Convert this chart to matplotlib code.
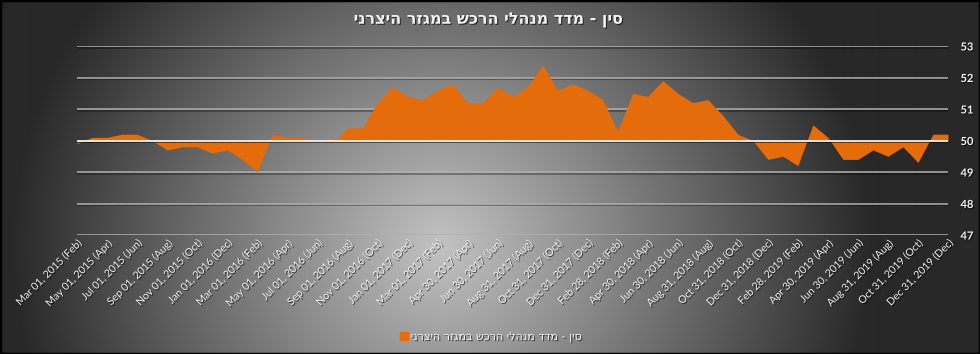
import numpy as np
import matplotlib
matplotlib.use("Agg")
import matplotlib.pyplot as plt
import matplotlib.patheffects as pe
from matplotlib.patches import Rectangle
from matplotlib.lines import Line2D

# ---------------- data ----------------
title_text = "סין - מדד מנהלי הרכש במגזר היצרני"
series_name = "סין - מדד מנהלי הרכש במגזר היצרני"

pmi_values = [
    49.9, 50.1, 50.1, 50.2, 50.2, 50.0, 49.7, 49.8, 49.8, 49.6, 49.7,   # Feb-Dec 2015
    49.4, 49.0, 50.2, 50.1, 50.1, 50.0, 49.9, 50.4, 50.4, 51.2, 51.7, 51.4,  # 2016
    51.3, 51.6, 51.8, 51.2, 51.2, 51.7, 51.4, 51.7, 52.4, 51.6, 51.8, 51.6,  # 2017
    51.3, 50.3, 51.5, 51.4, 51.9, 51.5, 51.2, 51.3, 50.8, 50.2, 50.0, 49.4,  # 2018
    49.5, 49.2, 50.5, 50.1, 49.4, 49.4, 49.7, 49.5, 49.8, 49.3, 50.2, 50.2,  # 2019
]

tick_labels = [
    "Mar 01, 2015 (Feb)", "May 01, 2015 (Apr)", "Jul 01, 2015 (Jun)", "Sep 01, 2015 (Aug)",
    "Nov 01, 2015 (Oct)", "Jan 01, 2016 (Dec)", "Mar 01, 2016 (Feb)", "May 01, 2016 (Apr)",
    "Jul 01, 2016 (Jun)", "Sep 01, 2016 (Aug)", "Nov 01, 2016 (Oct)", "Jan 01, 2017 (Dec)",
    "Mar 01, 2017 (Feb)", "Apr 30, 2017 (Apr)", "Jun 30, 2017 (Jun)", "Aug 31, 2017 (Aug)",
    "Oct 31, 2017 (Oct)", "Dec 31, 2017 (Dec)", "Feb 28, 2018 (Feb)", "Apr 30, 2018 (Apr)",
    "Jun 30, 2018 (Jun)", "Aug 31, 2018 (Aug)", "Oct 31, 2018 (Oct)", "Dec 31, 2018 (Dec)",
    "Feb 28, 2019 (Feb)", "Apr 30, 2019 (Apr)", "Jun 30, 2019 (Jun)", "Aug 31, 2019 (Aug)",
    "Oct 31, 2019 (Oct)", "Dec 31, 2019 (Dec)",
]

y_ticks = [47, 48, 49, 50, 51, 52, 53]
baseline = 50

# ---------------- style ----------------
W, H = 980, 354
fill_color = "#E46C0A"
text_color = "#F2F2F2"
shadow = [pe.withSimplePatchShadow(offset=(0.8, -0.8), shadow_rgbFace="black", alpha=0.6)]


def rtl(s):
    return s[::-1]


fig = plt.figure(figsize=(W / 100, H / 100), dpi=100)

# background radial gradient
bg = fig.add_axes([0, 0, 1, 1], zorder=-10)
yy, xx = np.mgrid[0:H, 0:W]
cx, cy = 440, 245
r = np.sqrt(((xx - cx) / 430.0) ** 2 + ((yy - cy) / 410.0) ** 2)
r = np.clip(r, 0, 1)
val = 195 - (195 - 40) * r
img = np.dstack([val, val, val]) / 255.0
bg.imshow(img, aspect="auto", extent=[0, W, H, 0])
bg.set_xlim(0, W)
bg.set_ylim(H, 0)
bg.axis("off")

# main axes
left, right, top, bottom = 77, 948, 46, 235
ax = fig.add_axes([left / W, 1 - bottom / H, (right - left) / W, (bottom - top) / H])
ax.set_facecolor("none")

x = np.arange(len(pmi_values))
y = np.array(pmi_values)

# gridlines
for t in y_ticks:
    if t == baseline:
        continue
    ax.axhline(t, color="#B0B0B0", lw=1.1, zorder=1,
               path_effects=[pe.SimpleLineShadow(offset=(0, -1.1), shadow_color="black", alpha=0.4), pe.Normal()])

ax.fill_between(x, y, baseline, color=fill_color, lw=0, zorder=2, interpolate=True)

ax.axhline(baseline, color="#F2F2F2", lw=1.3, zorder=3,
           path_effects=[pe.SimpleLineShadow(offset=(0, -1.2), shadow_color="black", alpha=0.55), pe.Normal()])

ax.set_xlim(0, len(pmi_values) - 1)
ax.set_ylim(min(y_ticks), max(y_ticks))

for s in ax.spines.values():
    s.set_visible(False)

ax.yaxis.tick_right()
ax.set_yticks(y_ticks)
ax.set_yticklabels([str(t) for t in y_ticks], color=text_color, fontsize=8,
                   fontweight="bold", family=["Lato", "DejaVu Sans"])
ax.tick_params(axis="y", length=0, pad=9)
for lbl in ax.get_yticklabels():
    lbl.set_path_effects(shadow)

ax.set_xticks(x[::2])
ax.set_xticklabels(tick_labels, rotation=45, ha="right", va="top", rotation_mode="anchor",
                   color=text_color, fontsize=7.5, family=["Lato", "DejaVu Sans"])
ax.tick_params(axis="x", length=0, pad=3)
for lbl in ax.get_xticklabels():
    lbl.set_path_effects(shadow)

# title
fig.text(488 / W, 1 - 20 / H, rtl(title_text), ha="center", va="center", color=text_color,
         fontsize=11.5, fontweight="bold", family=["DejaVu Sans"], path_effects=shadow)

# legend
handle = Line2D([], [], marker="s", linestyle="none", markersize=6,
                markerfacecolor=fill_color, markeredgecolor=fill_color)
leg = fig.legend([handle], [rtl(series_name)], loc="center", bbox_to_anchor=(490 / W, 1 - 337 / H),
                 frameon=False, handletextpad=0.1, handlelength=1.0,
                 prop={"family": ["DejaVu Sans"], "size": 8})
for t in leg.get_texts():
    t.set_color(text_color)
    t.set_path_effects(shadow)

# border
fig.patches.append(Rectangle((0, 0), 1, 1, transform=fig.transFigure, fill=False,
                             edgecolor="black", lw=2.5, zorder=100))

fig.savefig("out.png", dpi=100)
